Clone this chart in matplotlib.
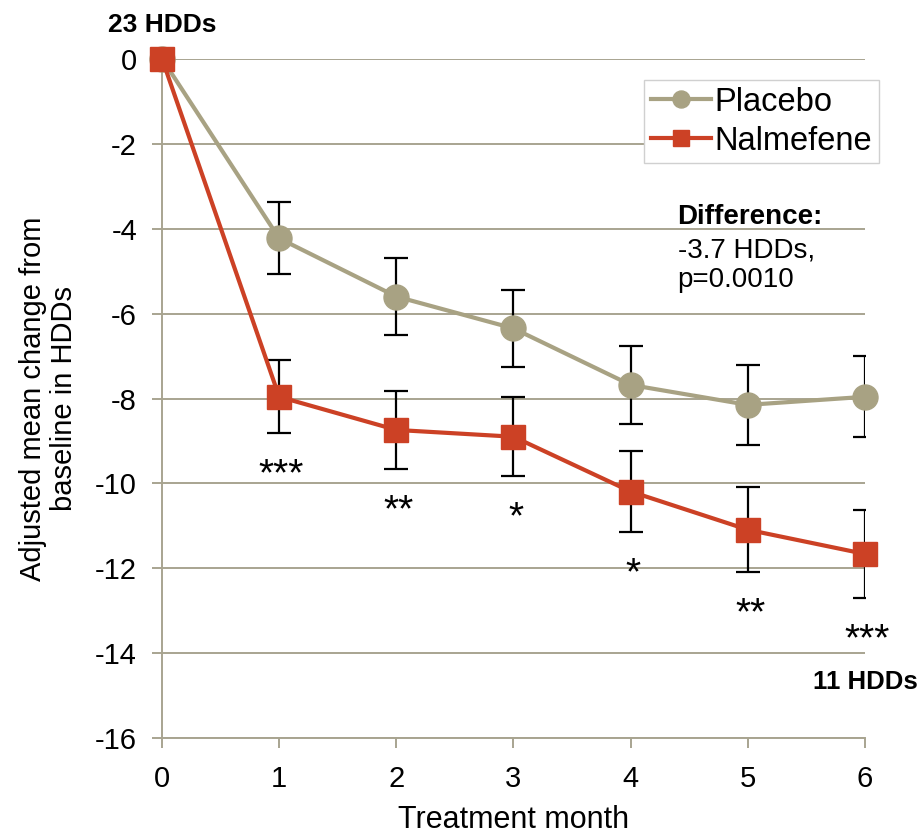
import numpy as np
import matplotlib
matplotlib.use("Agg")
import matplotlib.pyplot as plt

plt.rcParams['font.family'] = ['Liberation Sans', 'DejaVu Sans']
plt.rcParams['axes.unicode_minus'] = False

# data
months = [0, 1, 2, 3, 4, 5, 6]
placebo_mean = [0, -4.23, -5.60, -6.35, -7.68, -8.15, -7.96]
placebo_err = [0, 0.85, 0.91, 0.90, 0.92, 0.95, 0.95]
nalmefene_mean = [0, -7.96, -8.74, -8.90, -10.19, -11.09, -11.66]
nalmefene_err = [0, 0.86, 0.92, 0.93, 0.96, 1.00, 1.03]
significance = ['', '***', '**', '*', '*', '**', '***']

PLACEBO_COLOR = '#A8A283'
NALMEFENE_COLOR = '#CC4125'
GRID_COLOR = '#A8A490'

fig = plt.figure(figsize=(9.2, 8.35), dpi=100)
ax = fig.add_axes([0.1761, 0.1158, 0.7641, 0.8139])

# error bars underneath the markers
for mean, err in ((placebo_mean, placebo_err), (nalmefene_mean, nalmefene_err)):
    m = np.array(mean[1:])
    e = np.array(err[1:])
    ax.errorbar(months[1:], m, yerr=e, fmt='none', ecolor='black',
                elinewidth=1.6, capsize=8.5, capthick=1.6, zorder=2)

ax.plot(months, placebo_mean, color=PLACEBO_COLOR, lw=3, marker='o',
        markersize=18, label='Placebo', zorder=3, clip_on=False)
ax.plot(months, nalmefene_mean, color=NALMEFENE_COLOR, lw=3, marker='s',
        markersize=17, label='Nalmefene', zorder=4, clip_on=False)

# significance stars under the nalmefene error bars
for x, m, e, s in zip(months, nalmefene_mean, nalmefene_err, significance):
    if s:
        ax.text(x + 0.02, m - e - 1.0, s, ha='center', va='center', fontsize=28)

ax.set_xlim(0, 6)
ax.set_ylim(-16, 0)
ax.set_xticks(months)
ax.set_yticks(np.arange(-16, 1, 2))
ax.yaxis.grid(True, color=GRID_COLOR, lw=1.4)
ax.set_axisbelow(True)
for side in ('top', 'right'):
    ax.spines[side].set_visible(False)
for side in ('left', 'bottom'):
    ax.spines[side].set_color(GRID_COLOR)
    ax.spines[side].set_linewidth(1.4)
ax.tick_params(axis='both', colors=GRID_COLOR, labelcolor='black',
               labelsize=21, length=7, width=1.4)
ax.tick_params(axis='y', pad=11)
ax.tick_params(axis='x', pad=12)

ax.set_xlabel('Treatment month', fontsize=22, labelpad=9)
ax.set_ylabel('Adjusted mean change from\nbaseline in HDDs', fontsize=21,
              labelpad=12, linespacing=1.15)

ax.text(0, 0.8, '23 HDDs', ha='center', va='center', fontsize=19,
        fontweight='bold', clip_on=False)
ax.text(6, -14.67, '11 HDDs', ha='center', va='center', fontsize=18.5,
        fontweight='bold', clip_on=False)
ax.text(4.40, -3.72, 'Difference:', ha='left', va='center', fontsize=20,
        fontweight='bold')
ax.text(4.40, -4.86, '-3.7 HDDs,\np=0.0010', ha='left', va='center',
        fontsize=20, linespacing=1.15)

leg = ax.legend(loc='upper right', bbox_to_anchor=(0.9554, 0.9042),
                bbox_transform=fig.transFigure, fontsize=23.5, frameon=True,
                fancybox=False, framealpha=1, edgecolor='#D0D0D0',
                handlelength=1.85, handletextpad=0.12, labelspacing=0.25,
                borderpad=0.2, borderaxespad=0, markerscale=0.68)
leg.get_frame().set_linewidth(1)

fig.savefig('out.png', dpi=100)
